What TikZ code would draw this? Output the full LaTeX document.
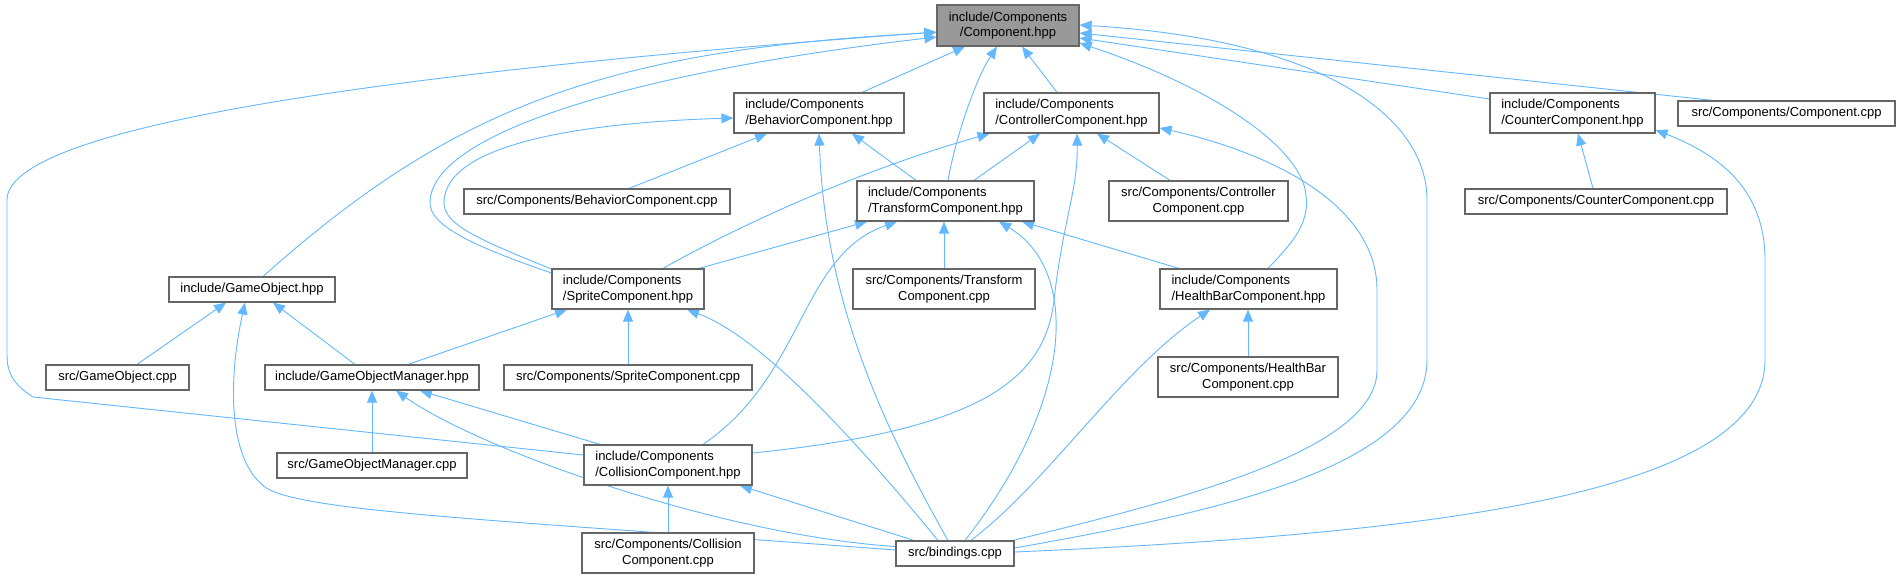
\documentclass[tikz,border=0pt]{standalone}
\usepackage{fontspec}
\setmainfont{Liberation Sans}
\usetikzlibrary{arrows.meta,calc}
\definecolor{edgec}{HTML}{63B8FF}
\definecolor{boxc}{HTML}{666666}
\definecolor{rootc}{HTML}{999999}
\pgfdeclarelayer{bg}
\pgfsetlayers{bg,main}
\begin{document}
\begin{tikzpicture}[x=1pt,y=-1pt,
  box/.style={draw=boxc, line width=1.2pt, fill=white, inner sep=0pt, font=\fontsize{13}{15.5}\selectfont, text=black},
  lbox/.style={box, align=left},
  cbox/.style={box, align=center},
  edge/.style={draw=edgec, line width=0.9pt, -{Triangle[length=12pt,width=10pt]}}]
\useasboundingbox (0,0) rectangle (1897,579);

\node[cbox, fill=rootc, minimum width=142pt, minimum height=41pt] (C) at (1008,25.5) {include/Components\\/Component.hpp};
\node[lbox, minimum width=170pt, minimum height=40pt] (B) at (819,113) {include/Components\\/BehaviorComponent.hpp};
\node[lbox, minimum width=175pt, minimum height=40pt] (Ct) at (1071.5,113) {include/Components\\/ControllerComponent.hpp};
\node[lbox, minimum width=177pt, minimum height=40pt] (T) at (945.5,201) {include/Components\\/TransformComponent.hpp};
\node[cbox, minimum width=179pt, minimum height=40pt] (CtC) at (1198.5,201) {src/Components/Controller\\Component.cpp};
\node[cbox, minimum width=182pt, minimum height=40pt] (TC) at (944,289) {src/Components/Transform\\Component.cpp};
\node[lbox, minimum width=177pt, minimum height=40pt] (H) at (1248.5,289) {include/Components\\/HealthBarComponent.hpp};
\node[lbox, minimum width=152pt, minimum height=40pt] (S) at (628,289) {include/Components\\/SpriteComponent.hpp};
\node[box, minimum width=166pt, minimum height=25pt] (G) at (252,289.5) {include/GameObject.hpp};
\node[box, minimum width=266pt, minimum height=25pt] (BC) at (597,201.5) {src/Components/BehaviorComponent.cpp};
\node[lbox, minimum width=165pt, minimum height=40pt] (Cn) at (1572.5,113) {include/Components\\/CounterComponent.hpp};
\node[box, minimum width=217pt, minimum height=25pt] (CC) at (1786.5,113.5) {src/Components/Component.cpp};
\node[box, minimum width=262pt, minimum height=25pt] (CnC) at (1596,201.5) {src/Components/CounterComponent.cpp};
\node[box, minimum width=143pt, minimum height=25pt] (GC) at (117.5,377.5) {src/GameObject.cpp};
\node[box, minimum width=214pt, minimum height=25pt] (GM) at (372,377.5) {include/GameObjectManager.hpp};
\node[box, minimum width=248pt, minimum height=25pt] (SC) at (628,377.5) {src/Components/SpriteComponent.cpp};
\node[cbox, minimum width=180pt, minimum height=40pt] (HC) at (1248,377) {src/Components/HealthBar\\Component.cpp};
\node[box, minimum width=190pt, minimum height=25pt] (GMC) at (372,465.5) {src/GameObjectManager.cpp};
\node[lbox, minimum width=168pt, minimum height=40pt] (Co) at (668,465) {include/Components\\/CollisionComponent.hpp};
\node[cbox, minimum width=172pt, minimum height=40pt] (CoC) at (668,553) {src/Components/Collision\\Component.cpp};
\node[box, minimum width=118pt, minimum height=25pt] (Bi) at (955,553.5) {src/bindings.cpp};

\begin{pgfonlayer}{bg}
\fill[white] (0,0) rectangle (1897,579);
% to Component.hpp
\draw[edge] ($(B.north)+(43,0)$) -- ($(C.south)+(-43,0)$);
\draw[edge] ($(Ct.north)+(-14.5,0)$) -- ($(C.south)+(14,0)$);
\draw[edge] ($(T.north)+(2.5,0)$) .. controls (955,140) and (975,80) .. ($(C.south)+(-11,0)$);
\draw[edge] ($(Cn.west)+(0,-14)$) -- ($(C.east)+(0,12.5)$);
\draw[edge] ($(CC.north)+(-73.5,0)$) -- ($(C.east)+(0,7.5)$);
\draw[edge] ($(H.north)+(19.5,0)$) .. controls (1290,245) and (1310,225) .. (1306,195) .. controls (1302,150) and (1220,90) .. ($(C.east)+(0,17.5)$);
\draw[edge] ($(Bi.east)+(0,-5.5)$) .. controls (1200,515) and (1427,470) .. (1427,360) -- (1427,200) .. controls (1427,120) and (1330,40) .. ($(C.east)+(0,-0.5)$);
\draw[edge] ($(Co.west)+(0,-10)$) -- (33,397) .. controls (15,385) and (7,375) .. (7,355) -- (7,200) .. controls (7,130) and (350,75) .. ($(C.west)+(0,6.5)$);
\draw[edge] ($(G.north)+(11,0)$) .. controls (450,110) and (600,50) .. ($(C.west)+(0,7)$);
\draw[edge] ($(S.west)+(0,-16)$) .. controls (470,245) and (430,225) .. (430,203) .. controls (430,130) and (650,70) .. ($(C.west)+(0,11.5)$);
% to BehaviorComponent.hpp
\draw[edge] ($(S.west)+(0,-20)$) .. controls (480,240) and (444,225) .. (444,203) .. controls (444,140) and (600,122) .. ($(B.west)+(0,5)$);
\draw[edge] ($(BC.north)+(32,0)$) -- ($(B.south)+(-52,0)$);
\draw[edge] ($(Bi.north)+(-7,0)$) .. controls (880,420) and (825,300) .. (B.south);
\draw[edge] ($(T.north)+(-29.5,0)$) -- ($(B.south)+(33,0)$);
% to ControllerComponent.hpp
\draw[edge] ($(T.north)+(28.5,0)$) -- ($(Ct.south)+(-31.5,0)$);
\draw[edge] ($(S.north)+(35,0)$) .. controls (740,225) and (860,170) .. ($(Ct.south)+(-82,0)$);
\draw[edge] ($(CtC.north)+(-28.5,0)$) -- ($(Ct.south)+(25.5,0)$);
\draw[edge] ($(Co.east)+(0,-12)$) .. controls (980,430) and (1045,380) .. (1054,300) .. controls (1063,220) and (1078,190) .. ($(Ct.south)+(5.5,0)$);
\draw[edge] ($(Bi.east)+(0,-13.5)$) .. controls (1180,500) and (1377,450) .. (1377,370) -- (1377,290) .. controls (1377,200) and (1260,150) .. ($(Ct.east)+(0,15)$);
% to TransformComponent.hpp
\draw[edge] ($(S.north)+(71,0)$) -- ($(T.south)+(-78.5,0)$);
\draw[edge] ($(Co.north)+(35,0)$) .. controls (805,375) and (800,255) .. ($(T.south)+(-48.5,0)$);
\draw[edge] (TC.north) -- (TC.north |- T.south);
\draw[edge] ($(Bi.north)+(10,0)$) .. controls (1075,400) and (1080,270) .. ($(T.south)+(53.5,0)$);
\draw[edge] ($(H.north)+(-69.5,0)$) -- ($(T.south)+(76.5,0)$);
% to HealthBarComponent.hpp
\draw[edge] (HC.north) -- (HC.north |- H.south);
\draw[edge] ($(Bi.north)+(16,0)$) .. controls (1050,480) and (1120,370) .. ($(H.south)+(-38.5,0)$);
% to CounterComponent.hpp
\draw[edge] ($(CnC.north)+(-3,0)$) -- ($(Cn.south)+(5.5,0)$);
\draw[edge] ($(Bi.east)+(0,-1.5)$) .. controls (1400,535) and (1765,500) .. (1765,360) -- (1765,260) .. controls (1765,190) and (1720,155) .. ($(Cn.east)+(0,17)$);
% to SpriteComponent.hpp
\draw[edge] ($(GM.north)+(36,0)$) -- ($(S.south)+(-61,0)$);
\draw[edge] (SC.north) -- (SC.north |- S.south);
\draw[edge] ($(Bi.north)+(-17,0)$) .. controls (880,470) and (770,340) .. ($(S.south)+(59,0)$);
% to GameObject.hpp
\draw[edge] ($(GC.north)+(19.5,0)$) -- ($(G.south)+(-26,0)$);
\draw[edge] ($(GM.north)+(-17,0)$) -- ($(G.south)+(21,0)$);
\draw[edge] ($(Bi.west)+(0,-3.5)$) .. controls (500,520) and (300,512) .. (265,487) .. controls (228,460) and (228,380) .. ($(G.south)+(-7,0)$);
% to GameObjectManager.hpp
\draw[edge] (GMC.north) -- (GM.south);
\draw[edge] ($(Co.north)+(-68,0)$) -- ($(GM.south)+(48,0)$);
\draw[edge] ($(Bi.west)+(0,-7)$) .. controls (720,535) and (480,450) .. ($(GM.south)+(24,0)$);
% to CollisionComponent.hpp
\draw[edge] (CoC.north) -- (Co.south);
\draw[edge] ($(Bi.north)+(-41,0)$) -- ($(Co.south)+(72,0)$);
\end{pgfonlayer}
\end{tikzpicture}
\end{document}
